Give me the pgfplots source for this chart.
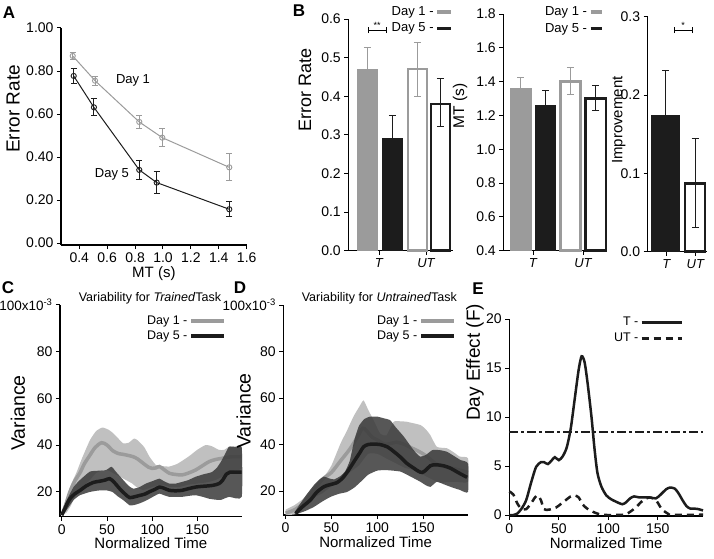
\documentclass[border=0pt]{standalone}
\usepackage{fontspec}
\setmainfont{Liberation Sans}
\usepackage{pgfplots}
\pgfplotsset{compat=1.18}
\definecolor{dgray}{HTML}{9B9B9B}
\definecolor{band}{HTML}{C0C0C0}
\definecolor{dband}{HTML}{3A3A3A}
\definecolor{ink}{HTML}{1C1C1C}
\pgfplotsset{
  igor/.style={
    scale only axis,
    axis lines*=left,
    axis line style={line width=1.1pt,-},
    tick align=outside,
    major tick length=4pt,
    every tick/.style={black,line width=1pt},
    tick label style={font=\fontsize{14}{16}\selectfont},
    /pgf/number format/assume math mode=true,
    xlabel style={font=\fontsize{15}{17}\selectfont, yshift=3pt},
    clip=false,
    anchor=south west,
    legend plot pos=right,
    legend cell align=right,
  },
  yl/.style n args={3}{ylabel style={at={(axis description cs:#1,#2)}, anchor=center, font=\fontsize{#3}{#3}\selectfont}},
  bleg/.style={legend style={draw=none,fill=none,inner sep=0pt,row sep=2pt,font=\fontsize{13}{15}\selectfont},
    legend image code/.code={\draw[##1] (0pt,0pt) -- (14pt,0pt);}},
  cleg/.style={legend style={draw=none,fill=none,inner sep=0pt,row sep=1pt,font=\fontsize{12.5}{15}\selectfont},
    legend image code/.code={\draw[##1] (0pt,0pt) -- (33pt,0pt);}},
}
\begin{document}
\begin{tikzpicture}
\path[use as bounding box] (0pt,0pt) rectangle (714pt,558pt);
% panel letters
\node[font=\fontsize{17}{17}\selectfont\bfseries] at (9pt,545pt) {A};
\node[font=\fontsize{17}{17}\selectfont\bfseries] at (299pt,547pt) {B};
\node[font=\fontsize{17}{17}\selectfont\bfseries] at (8pt,270pt) {C};
\node[font=\fontsize{17}{17}\selectfont\bfseries] at (240pt,270pt) {D};
\node[font=\fontsize{17}{17}\selectfont\bfseries] at (478pt,269pt) {E};

% ---------------- A
\begin{axis}[igor, at={(61pt,313pt)}, width=185.7pt, height=217pt,
  xmin=0.269, xmax=1.6, ymin=-0.0093, ymax=1.0,
  xtick={0.4,0.6,0.8,1.0,1.2,1.4,1.6}, ytick={0,0.2,0.4,0.6,0.8,1.0},
  yticklabel style={/pgf/number format/.cd,fixed,fixed zerofill,precision=2},
  xticklabel style={/pgf/number format/.cd,fixed,fixed zerofill,precision=1},
  xlabel={MT (s)}, ylabel={Error Rate}, yl={-0.258}{0.627}{19}]
\addplot[dgray, line width=1pt, mark=none,
  error bars/.cd, y dir=both, y explicit, error bar style={line width=1pt},
  error mark options={rotate=90,mark size=3pt,line width=1pt}]
coordinates {(0.353,0.870) +- (0,0.018) (0.513,0.755) +- (0,0.021) (0.830,0.563) +- (0,0.031) (0.995,0.49) +- (0,0.043) (1.475,0.352) +- (0,0.062)};
\addplot[dgray, only marks, mark=o, mark size=2.6pt, mark options={fill=white,line width=0.9pt}]
coordinates {(0.353,0.870) (0.513,0.755) (0.830,0.563) (0.995,0.49) (1.475,0.352)};
\addplot[ink, line width=1pt, mark=none,
  error bars/.cd, y dir=both, y explicit, error bar style={line width=1pt},
  error mark options={rotate=90,mark size=3pt,line width=1pt}]
coordinates {(0.36,0.777) +- (0,0.034) (0.505,0.631) +- (0,0.039) (0.83,0.340) +- (0,0.043) (0.955,0.281) +- (0,0.05) (1.475,0.157) +- (0,0.036)};
\addplot[ink, only marks, mark=o, mark size=2.6pt, mark options={fill=white,line width=0.9pt}]
coordinates {(0.36,0.777) (0.505,0.631) (0.83,0.340) (0.955,0.281) (1.475,0.157)};
\node[font=\fontsize{13}{15}\selectfont] at (axis cs:0.785,0.757) {Day 1};
\node[font=\fontsize{13}{15}\selectfont] at (axis cs:0.634,0.321) {Day 5};
\end{axis}

% ---------------- B left
\begin{axis}[igor, bleg, at={(348.3pt,307.3pt)}, width=105pt, height=231.7pt,
  xmin=0, xmax=105, ymin=0, ymax=0.6,
  xtick={31,78}, xticklabels={\textit{T},\textit{UT}},
  xticklabel style={font=\fontsize{13}{15}\selectfont},
  ytick={0,0.1,0.2,0.3,0.4,0.5,0.6},
  yticklabel style={/pgf/number format/.cd,fixed,fixed zerofill,precision=1},
  ylabel={Error Rate}, yl={-0.412}{0.694}{18},
  legend style={at={(1.0,1.063)},anchor=north east}]
\addlegendimage{dgray,line width=3.5pt}\addlegendentry{Day 1 -}
\addlegendimage{ink,line width=3.5pt}\addlegendentry{Day 5 -}
\addplot[ybar, bar shift=0pt, bar width=21, fill=dgray, draw=none,
  error bars/.cd, y dir=both, y explicit, error bar style={dgray,line width=1pt},
  error mark options={rotate=90,dgray,mark size=3.5pt,line width=1pt}]
  coordinates {(19,0.47) +- (0,0.057)};
\addplot[ybar, bar shift=0pt, bar width=21, fill=ink, draw=none,
  error bars/.cd, y dir=both, y explicit, error bar style={ink,line width=1pt},
  error mark options={rotate=90,ink,mark size=3.5pt,line width=1pt}]
  coordinates {(44,0.293) +- (0,0.058)};
\addplot[ybar, bar shift=0pt, bar width=19, fill=white, draw=dgray, line width=2.5pt,
  error bars/.cd, y dir=both, y explicit, error bar style={dgray,line width=1pt},
  error mark options={rotate=90,dgray,mark size=3.5pt,line width=1pt}]
  coordinates {(69,0.47) +- (0,0.07)};
\addplot[ybar, bar shift=0pt, bar width=19, fill=white, draw=ink, line width=2.5pt,
  error bars/.cd, y dir=both, y explicit, error bar style={ink,line width=1pt},
  error mark options={rotate=90,ink,mark size=3.5pt,line width=1pt}]
  coordinates {(92,0.38) += (0,0.065) -= (0,0.058)};
\draw[line width=0.9pt] (axis cs:19.7,0.5715) -- (axis cs:37.7,0.5715);
\draw[line width=0.9pt] ([yshift=-3pt]axis cs:19.7,0.5715) -- ([yshift=3pt]axis cs:19.7,0.5715);
\draw[line width=0.9pt] ([yshift=-3pt]axis cs:37.7,0.5715) -- ([yshift=3pt]axis cs:37.7,0.5715);
\node[font=\fontsize{9}{9}\selectfont, above, inner sep=1pt] at (axis cs:28.7,0.5715) {**};
\end{axis}

% ---------------- B middle
\begin{axis}[igor, bleg, at={(503.3pt,307.3pt)}, width=104pt, height=236.7pt,
  xmin=0, xmax=104, ymin=0.4, ymax=1.8,
  xtick={30,80}, xticklabels={\textit{T},\textit{UT}},
  xticklabel style={font=\fontsize{13}{15}\selectfont},
  ytick={0.4,0.6,0.8,1.0,1.2,1.4,1.6,1.8},
  yticklabel style={/pgf/number format/.cd,fixed,fixed zerofill,precision=1},
  ylabel={MT (s)}, yl={-0.416}{0.611}{15.5},
  legend style={at={(0.965,1.04)},anchor=north east},
  legend image code/.code={\draw[#1] (0pt,0pt) -- (11pt,0pt);}]
\addlegendimage{dgray,line width=3.5pt}\addlegendentry{Day 1 -}
\addlegendimage{ink,line width=3.5pt}\addlegendentry{Day 5 -}
\addplot[ybar, bar shift=0pt, bar width=22, fill=dgray, draw=none,
  error bars/.cd, y dir=both, y explicit, error bar style={dgray,line width=1pt},
  error mark options={rotate=90,dgray,mark size=3.5pt,line width=1pt}]
  coordinates {(17.5,1.364) +- (0,0.059)};
\addplot[ybar, bar shift=0pt, bar width=21, fill=ink, draw=none,
  error bars/.cd, y dir=both, y explicit, error bar style={ink,line width=1pt},
  error mark options={rotate=90,ink,mark size=3.5pt,line width=1pt}]
  coordinates {(42.5,1.261) +- (0,0.085)};
\addplot[ybar, bar shift=0pt, bar width=20, fill=white, draw=dgray, line width=2.5pt,
  error bars/.cd, y dir=both, y explicit, error bar style={dgray,line width=1pt},
  error mark options={rotate=90,dgray,mark size=3.5pt,line width=1pt}]
  coordinates {(67,1.40) += (0,0.082) -= (0,0.079)};
\addplot[ybar, bar shift=0pt, bar width=20.5, fill=white, draw=ink, line width=2.5pt,
  error bars/.cd, y dir=both, y explicit, error bar style={ink,line width=1pt},
  error mark options={rotate=90,ink,mark size=3.5pt,line width=1pt}]
  coordinates {(92.5,1.30) += (0,0.08) -= (0,0.068)};
\end{axis}

% ---------------- B right
\begin{axis}[igor, at={(647.7pt,306.3pt)}, width=59.3pt, height=235pt,
  xmin=0, xmax=59.3, ymin=0, ymax=0.3,
  xtick={19,48}, xticklabels={\textit{T},\textit{UT}},
  xticklabel style={font=\fontsize{13}{15}\selectfont},
  ytick={0,0.1,0.2,0.3},
  yticklabel style={/pgf/number format/.cd,fixed,fixed zerofill,precision=1},
  ylabel={Improvement}, yl={-0.49}{0.56}{15}]
\addplot[ybar, bar shift=0pt, bar width=29, fill=ink, draw=none,
  error bars/.cd, y dir=both, y explicit, error bar style={ink,line width=1pt},
  error mark options={rotate=90,ink,mark size=3.5pt,line width=1pt}]
  coordinates {(18,0.1745) +- (0,0.057)};
\addplot[ybar, bar shift=0pt, bar width=20, fill=white, draw=ink, line width=2.5pt,
  error bars/.cd, y dir=both, y explicit, error bar style={ink,line width=1pt},
  error mark options={rotate=90,ink,mark size=3.5pt,line width=1pt}]
  coordinates {(47.5,0.0872) += (0,0.0575) -= (0,0.0566)};
\draw[line width=0.9pt] (axis cs:26.3,0.283) -- (axis cs:44.3,0.283);
\draw[line width=0.9pt] ([yshift=-3pt]axis cs:26.3,0.283) -- ([yshift=3pt]axis cs:26.3,0.283);
\draw[line width=0.9pt] ([yshift=-3pt]axis cs:44.3,0.283) -- ([yshift=3pt]axis cs:44.3,0.283);
\node[font=\fontsize{9}{9}\selectfont, above, inner sep=1pt] at (axis cs:35.3,0.283) {*};
\end{axis}

% ---------------- C
\begin{axis}[igor, cleg, at={(60pt,41.3pt)}, width=181.7pt, height=211.7pt,
  xmin=-2, xmax=199, ymin=9.3, ymax=100,
  xtick={0,50,100,150}, ytick={20,40,60,80,100},
  yticklabels={20,40,60,80,{\fontsize{13.5}{15}\selectfont 100x10\textsuperscript{-3}}},
  xlabel={Normalized Time}, ylabel={Variance}, yl={-0.231}{0.49}{19.5},
  title={Variability for \textit{Trained}Task},
  title style={font=\fontsize{12.5}{14}\selectfont, at={(0.495,1.0)}, anchor=center, yshift=1pt},
  legend style={at={(0.914,0.958)},anchor=north east}]
\addlegendimage{dgray,line width=3.5pt}\addlegendentry{Day 1 -}
\addlegendimage{ink,line width=3.5pt}\addlegendentry{Day 5 -}
\addplot[fill=band, draw=none, smooth, tension=0.3, forget plot] coordinates {(0,11) (5,17) (10,23) (16,28) (22,34) (31,42) (38,46) (45,47.5) (52,46.5) (57,45) (62,43) (68,40.7) (74,41) (80,42.8) (84,42) (91,39.2) (97,35) (104,31.5) (111,31) (119,30.8) (128,32) (140,35) (150,38) (159,40) (166,39.5) (174,37.9) (180,38) (185,39.3) (192,39.3) (199,39)
 (199,30) (190,29) (180,27) (170,25) (160,24) (150,23.5) (140,23) (130,22) (120,22) (110,23) (100,22) (90,20.7) (82,22.2) (78,23.5) (71,25) (64,26.5) (57,27.9) (52,29) (46,29.3) (38,28) (31,25) (24,22.5) (16,19) (10,14) (5,11) (0,10)} -- cycle;
\addplot[dgray, line width=3.5pt, smooth, forget plot] coordinates {(0,10) (4,14) (9,20) (15,25) (20,28) (25,32) (31,35.6) (37,39) (44,41) (50,40) (56.6,37.5) (63,36.3) (68,36) (74,35.5) (79,35) (84,34) (90,32.2) (96,30.5) (100,30) (104,30.2) (108,30.8) (113,29.5) (119,27.9) (126,27.4) (133,27.2) (140,28) (148,29.3) (155,31) (163,32.9) (170,33.8) (177,34.3) (188,35) (199,35)};
\addplot[fill=dband, fill opacity=0.85, draw=none, smooth, tension=0.3, forget plot] coordinates {(0,10.5) (5,16) (13,22) (20,25) (31,28.6) (40,29) (49,29.3) (55,30.7) (60,28.5) (68,25) (74,22.5) (79,21.3) (86,22) (93,23.5) (100,24.5) (108,25.6) (113,24.5) (119,23.5) (126,23.5) (133,24.2) (140,25) (148,26.4) (157,27.5) (166,28.4) (172,30.5) (177,33.5) (181,36.5) (185,39.3) (192,39.2) (199,39)
 (199,17.8) (185,17.8) (176,16.5) (170,16.6) (163,17) (156,17.8) (148,18.5) (140,18.2) (133,17.8) (126,17.8) (119,17.8) (113,18.5) (108,19.2) (103,18.3) (97,17) (92,16) (86,15) (80,14.3) (75,14.2) (68,16.4) (62,18) (56,19.9) (49,20.6) (40,20.5) (31,19.9) (20,18.5) (13,16.4) (5,12) (0,9.5)} -- cycle;
\addplot[ink, line width=3.5pt, smooth, forget plot] coordinates {(0,10) (3,12.5) (6,15) (9,17) (14,19) (20,20.5) (27,22.5) (35,24) (42,24.5) (48,25) (53,25.6) (58,24) (64,21.3) (70,19) (75,17.5) (80,17.8) (86,18.4) (92,19) (97,20) (103,21) (108,22) (113,21.5) (119,20.6) (126,20.4) (133,20.6) (140,21.3) (148,22) (155,22.3) (162,22.5) (168,22.8) (174,23.5) (178,25) (182,27.5) (186,28.4) (199,28.4)};
\end{axis}

% ---------------- D
\begin{axis}[igor, cleg, at={(283.3pt,43pt)}, width=184.7pt, height=210pt,
  xmin=-2.5, xmax=199, ymin=9.7, ymax=100,
  xtick={0,50,100,150}, ytick={20,40,60,80,100},
  yticklabels={20,40,60,80,{\fontsize{13.5}{15}\selectfont 100x10\textsuperscript{-3}}},
  xlabel={Normalized Time}, ylabel={Variance}, yl={-0.215}{0.495}{19.5},
  title={Variability for \textit{Untrained}Task},
  title style={font=\fontsize{12.5}{14}\selectfont, at={(0.52,1.0)}, anchor=center, yshift=1pt},
  legend style={at={(0.935,0.958)},anchor=north east}]
\addlegendimage{dgray,line width=3.5pt}\addlegendentry{Day 1 -}
\addlegendimage{ink,line width=3.5pt}\addlegendentry{Day 5 -}
\addplot[fill=band, draw=none, smooth, tension=0.3, forget plot] coordinates {(0,12) (10,14) (20,17) (30,22) (42,26.2) (50,31) (60,40.5) (67,46) (74,52) (80,56) (85,59) (90,55) (96,50.5) (103,44.8) (110,44) (118,49.8) (125,50) (132,49.8) (147,48.4) (153,46.5) (158,44) (165,39) (176,38.4) (184,36.5) (190,34.8) (199,34.1)
 (199,24) (185,24) (175,23.8) (168,23.5) (160,25) (150,27) (140,29) (130,30) (120,32) (110,34) (100,36) (90,36) (80,31) (70,28) (60,24) (50,22) (40,19) (30,17) (20,13) (10,10) (0,9.7)} -- cycle;
\addplot[dgray, line width=3.5pt, smooth, forget plot] coordinates {(0,10.5) (10,12) (20,15) (30,20) (40,25) (50,28) (60,33) (70,38) (78,43) (84,47) (88,46) (95,43) (100,42) (108,40.2) (115,40.5) (121,41) (128,40.3) (135,39) (143,37.5) (150,36) (157,34) (163,32) (170,30.8) (180,30) (190,29) (199,28)};
\addplot[fill=dband, fill opacity=0.85, draw=none, smooth, tension=0.3, forget plot] coordinates {(10,11) (15,14) (22,18) (31,22.6) (37,25) (42,26.2) (47,25.5) (53,25) (60,26.5) (65,28.5) (70,33) (75,42) (80,48) (86,51) (92,52) (100,52) (108,51.2) (114,50.5) (120,47.5) (129,43.4) (137,39) (142,36.5) (147,34.8) (153,35.5) (160,37.6) (168,37.6) (176,36.9) (184,35) (191,33.3) (199,31.8)
 (199,19.6) (190,20.5) (180,21.8) (172,23) (165,24) (158,21.8) (153,22.5) (147,24) (135,26.5) (125,28.4) (110,29) (100,28.8) (90,27) (82,24) (75,21.5) (67,19.6) (58,18.8) (49,17.5) (40,15.5) (31,13.2) (22,11.5) (15,10.5) (10,9.8)} -- cycle;
\addplot[ink, line width=3.5pt, smooth, forget plot] coordinates {(11,10.3) (15,12) (20,13.8) (27,16.1) (34,19.5) (42,21.9) (49,22.8) (56,23.6) (62,25.5) (67,28) (71,30.4) (76,33.5) (81,36.5) (85,39) (90,40) (96,40.2) (103,40) (111,39) (118,37) (125,34.7) (132,32) (140,29.8) (145,28.5) (149,28) (153,29) (158,30.9) (163,31.3) (167,31.2) (173,30.8) (180,29.8) (188,28) (198,25.9)};
\end{axis}

% ---------------- E
\begin{axis}[igor, at={(509.3pt,42pt)}, width=193.7pt, height=197pt,
  xmin=0, xmax=195.6, ymin=-0.1, ymax=20,
  xtick={0,50,100,150}, ytick={0,5,10,15,20},
  xlabel={Normalized Time}, ylabel={Day Effect (F)}, yl={-0.177}{0.78}{19},
  legend style={draw=none,fill=none,inner sep=0pt,row sep=2pt,font=\fontsize{12.5}{15}\selectfont,at={(0.897,1.02)},anchor=north east},
  legend image code/.code={\draw[#1] (0pt,0pt) -- (40pt,0pt);}]
\addplot[ink, line width=2.5pt, smooth, tension=0.45] coordinates {(0,0) (4,0) (8,0.15) (12,0.6) (17,1.5) (22,3.3) (27,4.9) (32,5.4) (35,5.4) (39,5.2) (43,5.6) (46,5.9) (50,5.6) (54,6.0) (58,6.9) (62,8.8) (66,11.8) (70,14.8) (73,16.2) (76,15.6) (79,13.5) (83,10) (86,6.8) (89,4.3) (93,2.9) (98,2.0) (103,1.6) (108,1.35) (114,1.1) (118,1.3) (122,1.7) (126,1.9) (131,1.8) (141,1.8) (148,1.7) (153,2.1) (158,2.6) (162,2.8) (167,2.7) (171,2.2) (175,1.5) (179,0.9) (183,0.65) (189,0.64) (195.6,0.47)};
\addlegendentry{T -}
\addplot[ink, line width=2.5pt, dash pattern=on 7pt off 5pt, smooth, tension=0.45] coordinates {(0,2.4) (4,2.1) (8,1.2) (12,0.65) (17,0.6) (22,1.2) (26,1.8) (29,2.0) (32,1.5) (35,0.6) (40,0.55) (47,0.75) (53,1.2) (58,1.6) (62,1.9) (66,2.0) (70,1.8) (74,1.1) (78,0.7) (84,0.35) (92,0.05) (100,0) (115,0.03) (120,0.2) (125,0.55) (130,1.0) (135,1.5) (141,1.8) (145,1.7) (149,1.4) (152,0.9) (155,0.5) (160,0.15) (164,0.03) (195.6,0.03)};
\addlegendentry{UT -}
\addplot[ink, line width=2.2pt, dash pattern=on 9pt off 3pt on 3pt off 3pt, forget plot] coordinates {(0,8.45) (195.6,8.45)};
\end{axis}
\end{tikzpicture}
\end{document}
